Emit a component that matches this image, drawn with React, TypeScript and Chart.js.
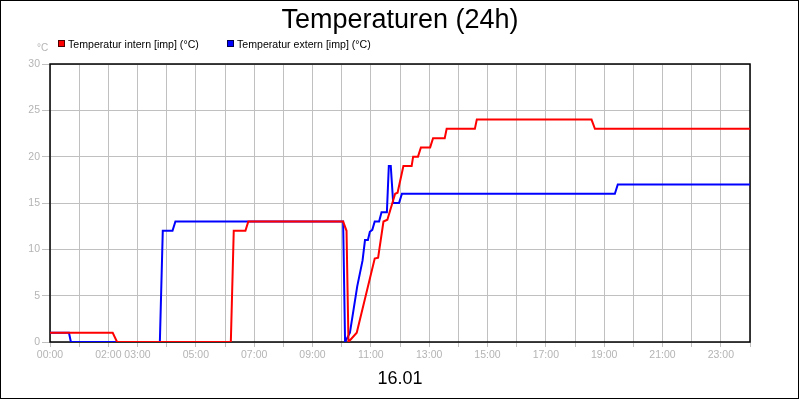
import React, { useEffect, useRef } from "react";
import { Chart, registerables } from "chart.js";

Chart.register(...registerables);

const TITLE = "Temperaturen (24h)";
const DATE_LABEL = "16.01";
const UNIT_LABEL = "°C";
const seriesNames = ["Temperatur intern [imp] (°C)", "Temperatur extern [imp] (°C)"];
const seriesColors = ["#ff0000", "#0000ff"];

const internTimes = [
  "00:00", "02:09", "02:18", "06:12", "06:18", "06:42", "06:48", "10:03", "10:10", "10:14",
  "10:31", "11:08", "11:15", "11:26", "11:34", "11:50", "11:55", "12:07", "12:24", "12:27",
  "12:37", "12:43", "13:02", "13:08", "13:32", "13:36", "14:34", "14:38", "18:34", "18:41",
  "24:00",
];
const internValues = [
  1, 1, 0, 0, 12, 12, 13, 13, 12, 0,
  1, 9, 9.1, 13, 13.2, 16, 16.1, 19, 19, 20,
  20, 21, 21, 22, 22, 23, 23, 24, 24, 23,
  23,
];

const externTimes = [
  "00:00", "00:39", "00:43", "03:46", "03:52", "04:12", "04:18", "10:03", "10:07", "10:17",
  "10:32", "10:43", "10:48", "10:54", "10:58", "11:03", "11:08", "11:17", "11:22", "11:33",
  "11:37", "11:41", "11:46", "11:58", "12:04", "19:22", "19:28", "24:00",
];
const externValues = [
  1, 1, 0, 0, 12, 12, 13, 13, 0, 1,
  6, 8.8, 11, 11, 11.9, 12.1, 13, 13, 14, 14,
  19, 19, 15, 15, 16, 16, 17, 17,
];

const xTickLabels = [
  "00:00", "02:00", "03:00", "05:00", "07:00", "09:00", "11:00",
  "13:00", "15:00", "17:00", "19:00", "21:00", "23:00",
];
const yMin = 0;
const yMax = 30;
const yStep = 5;
const xMin = 0;
const xMax = 24;

const toHours = (t: string) => {
  const [h, m] = t.split(":").map(Number);
  return h + m / 60;
};

const FONT = '"Liberation Sans", Arial, sans-serif';

const decorPlugin = {
  id: "decor",
  beforeDatasetsDraw(chart: any) {
    const { ctx, chartArea: a } = chart;
    ctx.save();
    ctx.strokeStyle = "#000";
    ctx.lineWidth = 1.5;
    ctx.strokeRect(a.left, a.top, a.right - a.left, a.bottom - a.top);
    ctx.restore();
  },
  afterDraw(chart: any) {
    const { ctx, width, height, chartArea: a } = chart;
    ctx.save();
    ctx.strokeStyle = "#000";
    ctx.lineWidth = 1;
    ctx.strokeRect(0.5, 0.5, width - 2, height - 2);

    ctx.fillStyle = "#000";
    ctx.textBaseline = "alphabetic";
    ctx.textAlign = "center";
    ctx.font = `27px ${FONT}`;
    ctx.fillText(TITLE, width / 2, 28);

    ctx.font = `18px ${FONT}`;
    ctx.fillText(DATE_LABEL, width / 2, 384);

    ctx.textAlign = "left";
    ctx.font = `10px ${FONT}`;
    ctx.fillStyle = "#b4b4b4";
    ctx.fillText(UNIT_LABEL, a.left - 13, 51);

    const legendX = [a.left + 8, a.left + 177];
    ctx.font = `10.6px ${FONT}`;
    seriesNames.forEach((name, i) => {
      const x = legendX[i];
      ctx.fillStyle = seriesColors[i];
      ctx.fillRect(x, 40, 7, 7);
      ctx.strokeStyle = "rgba(0,0,0,0.7)";
      ctx.lineWidth = 1;
      ctx.strokeRect(x + 0.5, 40.5, 6, 6);
      ctx.fillStyle = "#000";
      ctx.fillText(name, x + 10, 47.5);
    });
    ctx.restore();
  },
};

export default function App() {
  const canvasRef = useRef<HTMLCanvasElement | null>(null);

  useEffect(() => {
    const canvas = canvasRef.current;
    if (!canvas) return;
    const chart = new Chart(canvas, {
      type: "line",
      data: {
        datasets: [
          {
            label: seriesNames[0],
            data: internTimes.map((t, i) => ({ x: toHours(t), y: internValues[i] })),
            borderColor: seriesColors[0],
            backgroundColor: seriesColors[0],
            borderWidth: 2,
            pointRadius: 0,
            tension: 0,
            fill: false,
          },
          {
            label: seriesNames[1],
            data: externTimes.map((t, i) => ({ x: toHours(t), y: externValues[i] })),
            borderColor: seriesColors[1],
            backgroundColor: seriesColors[1],
            borderWidth: 2,
            pointRadius: 0,
            tension: 0,
            fill: false,
          },
        ],
      },
      options: {
        responsive: false,
        animation: false,
        devicePixelRatio: 1,
        layout: { padding: { top: 64, right: 50, bottom: 38, left: 0 } },
        plugins: {
          legend: { display: false },
          title: { display: false },
          tooltip: { enabled: false },
        },
        scales: {
          x: {
            type: "linear",
            min: xMin,
            max: xMax,
            afterFit: (scale: any) => {
              scale.height = 20;
            },
            border: { display: false },
            grid: { color: "#c0c0c0", tickColor: "#c0c0c0", tickLength: 5, lineWidth: 1 },
            ticks: {
              stepSize: 1,
              autoSkip: false,
              maxRotation: 0,
              padding: 2,
              color: "#b4b4b4",
              font: { family: FONT, size: 10.5 },
              callback: (value: any) => {
                const lbl = `${String(value).padStart(2, "0")}:00`;
                return xTickLabels.includes(lbl) ? lbl : "";
              },
            },
          },
          y: {
            type: "linear",
            min: yMin,
            max: yMax,
            afterFit: (scale: any) => {
              scale.width = 50;
            },
            border: { display: false },
            grid: { color: "#c0c0c0", tickColor: "#c0c0c0", tickLength: 8, lineWidth: 1 },
            ticks: {
              stepSize: yStep,
              padding: 2,
              color: "#b4b4b4",
              font: { family: FONT, size: 10.5 },
            },
          },
        },
      },
      plugins: [decorPlugin],
    });
    return () => chart.destroy();
  }, []);

  return (
    <div style={{ position: "absolute", left: 0, top: 0, width: 800, height: 400, background: "#fff" }}>
      <canvas ref={canvasRef} width={800} height={400} style={{ display: "block" }} />
    </div>
  );
}
